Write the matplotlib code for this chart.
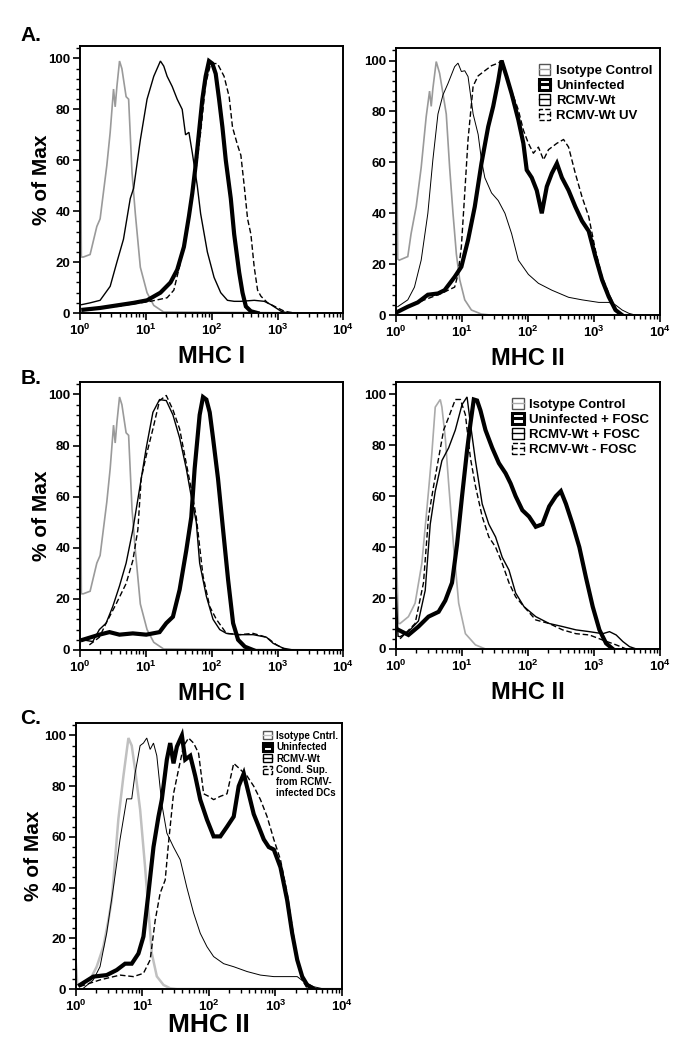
import matplotlib
matplotlib.use("Agg")
import matplotlib.pyplot as plt
import numpy as np
from matplotlib.lines import Line2D
from matplotlib.patches import Patch
from matplotlib.ticker import MultipleLocator, LogLocator, NullFormatter

plt.rcParams.update({
    "font.family": "Liberation Sans",
    "font.weight": "bold",
    "mathtext.fontset": "custom",
    "mathtext.bf": "Liberation Sans:bold",
    "mathtext.rm": "Liberation Sans:bold",
    "axes.linewidth": 1.4,
})

# ---- data: x as log10 of fluorescence, y as % of max ----
# A, MHC I
a1_iso_x = [0, 0.02, 0.05, 0.153, 0.255, 0.305, 0.407, 0.458, 0.509, 0.534, 0.56, 0.60, 0.636, 0.70, 0.738, 0.79, 0.84, 0.916, 1.018, 1.12, 1.27, 4.0]
a1_iso_y = [100, 22, 22, 23, 34, 37, 58, 71, 88, 81, 89, 99, 96, 85, 84, 55, 39, 18, 8, 3, 0.4, 0]
a1_wt_x = [0.025, 0.153, 0.305, 0.458, 0.56, 0.66, 0.763, 0.814, 0.916, 1.018, 1.12, 1.221, 1.272, 1.323, 1.4, 1.476, 1.552, 1.603, 1.654, 1.705, 1.781, 1.832, 1.934, 2.036, 2.137, 2.239, 2.341, 2.443, 2.646, 2.799, 2.9, 3.053, 3.155]
a1_wt_y = [3.3, 4, 5, 10.5, 20, 29, 45, 49, 68, 84, 93, 99, 97, 93, 89, 84, 80, 70, 71, 63, 50, 39, 24, 14, 8, 5, 4.6, 4.6, 5, 4.6, 3.3, 0.7, 0]
a1_un_x = [0.05, 0.305, 0.56, 0.814, 1.018, 1.221, 1.374, 1.476, 1.578, 1.654, 1.705, 1.756, 1.807, 1.858, 1.908, 1.959, 2.01, 2.061, 2.112, 2.163, 2.214, 2.29, 2.341, 2.417, 2.468, 2.519, 2.595, 2.697]
a1_un_y = [1.3, 2, 3, 4, 5, 8, 12, 17, 26, 38, 47, 58, 71, 84, 93, 99, 98, 94, 84, 73, 60, 45, 31, 16, 8, 2.6, 0.7, 0]
a1_uv_x = [0.05, 0.56, 1.069, 1.323, 1.425, 1.527, 1.628, 1.73, 1.832, 1.908, 1.985, 2.087, 2.188, 2.265, 2.316, 2.392, 2.443, 2.494, 2.545, 2.595, 2.646, 2.697, 2.748, 2.85, 3.003, 3.104, 3.257]
a1_uv_y = [1, 2.6, 4.6, 6, 9, 20, 34, 50, 71, 90, 98, 98, 93, 85, 73, 66, 62, 50, 37, 31, 18, 9, 6.6, 4, 2, 0.7, 0]

# A, MHC II
a2_iso_x = [0, 0.025, 0.05, 0.178, 0.228, 0.305, 0.381, 0.457, 0.508, 0.533, 0.558, 0.609, 0.66, 0.711, 0.761, 0.812, 0.863, 0.914, 0.964, 1.041, 1.142, 1.294, 1.447, 4.0]
a2_iso_y = [100, 22, 21.6, 23, 32, 42.6, 58, 78, 88, 82, 89, 99.6, 95, 87, 79, 58, 40, 24, 14, 6, 2, 0.4, 0, 0]
a2_wt_x = [0.025, 0.178, 0.279, 0.381, 0.482, 0.558, 0.635, 0.711, 0.787, 0.888, 0.939, 0.99, 1.041, 1.091, 1.168, 1.244, 1.294, 1.345, 1.447, 1.548, 1.65, 1.751, 1.853, 2.005, 2.157, 2.36, 2.614, 2.817, 3.071, 3.223, 3.325, 3.426, 3.528, 3.629]
a2_wt_y = [3.3, 6, 11, 21.6, 40, 61, 79, 86.5, 91, 97.6, 99, 95.7, 96, 93.7, 79, 71, 61, 54, 48, 45, 40, 32, 21.6, 16, 12.5, 9.8, 7, 6, 5, 5, 4, 2, 0.7, 0]
a2_un_x = [0.025, 0.178, 0.33, 0.482, 0.635, 0.736, 0.888, 0.99, 1.091, 1.193, 1.294, 1.396, 1.472, 1.548, 1.599, 1.675, 1.751, 1.853, 1.929, 1.98, 2.056, 2.132, 2.208, 2.284, 2.36, 2.437, 2.513, 2.614, 2.716, 2.817, 2.919, 3.02, 3.122, 3.223, 3.325, 3.426]
a2_un_y = [1.3, 3.3, 5, 8, 8.5, 9.8, 15, 19, 29.5, 42.6, 59.6, 74, 82, 92, 100, 93.7, 87, 76.7, 67.5, 57, 54, 49, 40, 50.5, 55.7, 59.6, 54, 49, 42.6, 37, 33, 23, 13.8, 7.2, 2, 0]
a2_uv_x = [0.025, 0.431, 0.685, 0.888, 0.939, 0.99, 1.041, 1.091, 1.168, 1.244, 1.345, 1.447, 1.548, 1.599, 1.675, 1.751, 1.853, 1.929, 2.005, 2.081, 2.157, 2.234, 2.31, 2.437, 2.538, 2.614, 2.716, 2.817, 2.919, 3.02, 3.122, 3.223, 3.325, 3.426]
a2_uv_y = [1.3, 6, 8.5, 11, 16, 27, 48, 69, 90, 94, 96, 98, 99, 100, 94, 88, 80.6, 72.7, 67.5, 63.6, 66, 61, 65, 67.5, 69, 66, 55.7, 46.5, 38.7, 25.6, 15, 8.5, 2.6, 0]

# B, MHC I (same isotype control as A)
b1_iso_x = a1_iso_x
b1_iso_y = a1_iso_y
b1_wt_x = [0.041, 0.193, 0.294, 0.396, 0.497, 0.599, 0.7, 0.802, 0.904, 1.005, 1.107, 1.208, 1.31, 1.411, 1.513, 1.614, 1.69, 1.766, 1.817, 1.919, 2.02, 2.122, 2.223, 2.426, 2.629, 2.832, 2.934, 3.086, 3.239]
b1_wt_y = [4, 3.3, 8, 10.5, 17, 25, 34, 47, 63, 79, 93, 98, 97.6, 92, 83, 71, 60, 50, 34, 21, 12, 8, 6.5, 6, 6, 5, 2.6, 0.7, 0]
b1_minus_x = [0.142, 0.294, 0.396, 0.548, 0.7, 0.802, 0.878, 0.929, 1.005, 1.107, 1.208, 1.31, 1.411, 1.513, 1.614, 1.69, 1.766, 1.868, 1.97, 2.071, 2.223, 2.426, 2.629, 2.832, 2.985, 3.137]
b1_minus_y = [2, 5, 10.5, 18, 26, 35, 47, 67, 76, 86.5, 97.6, 99.6, 94, 86.5, 73, 63, 52, 29, 17, 12, 6.5, 6, 6.5, 5, 2, 0]
b1_un_x = [0.041, 0.294, 0.447, 0.599, 0.802, 1.005, 1.208, 1.31, 1.411, 1.513, 1.614, 1.69, 1.741, 1.817, 1.868, 1.919, 1.97, 2.02, 2.096, 2.173, 2.249, 2.325, 2.401, 2.503, 2.629]
b1_un_y = [4, 6, 7, 6, 6.5, 6, 7, 10.5, 13, 23.6, 39, 52, 71, 92, 99, 98, 93, 83, 67, 47, 27.5, 10.5, 4, 1.3, 0]

# B, MHC II
b2_iso_x = [0, 0.036, 0.061, 0.188, 0.289, 0.391, 0.492, 0.543, 0.594, 0.67, 0.695, 0.746, 0.797, 0.873, 0.949, 1.051, 1.203, 1.355, 4.0]
b2_iso_y = [43, 10, 10, 12.7, 18, 33.6, 62, 77, 95, 98, 95, 83, 65, 40, 18, 6, 1.6, 0, 0]
b2_wt_x = [0, 0.03, 0.061, 0.188, 0.34, 0.442, 0.518, 0.594, 0.695, 0.797, 0.898, 1.0, 1.076, 1.127, 1.203, 1.305, 1.406, 1.508, 1.609, 1.711, 1.812, 1.939, 2.117, 2.32, 2.523, 2.726, 2.929, 3.132, 3.234, 3.335, 3.437, 3.538, 3.64]
b2_wt_y = [25, 5, 4.8, 6.8, 11, 23, 49, 62, 74, 79, 86, 96, 99, 88.5, 74, 57, 49, 44, 36, 31, 22, 16.6, 12.7, 10, 8.8, 7.5, 6.8, 6, 6.8, 5.5, 2.9, 0.9, 0]
b2_minus_x = [0.061, 0.289, 0.416, 0.492, 0.569, 0.645, 0.721, 0.797, 0.898, 0.975, 1.051, 1.127, 1.203, 1.305, 1.406, 1.508, 1.609, 1.711, 1.812, 1.939, 2.117, 2.32, 2.523, 2.726, 2.929, 3.132, 3.335, 3.487]
b2_minus_y = [4, 10, 26, 52, 64, 75, 86, 91, 98, 98, 92, 75, 64, 52, 44, 40, 33.6, 26, 20.5, 16.6, 11.4, 10, 7.5, 6, 5.5, 3.5, 1.6, 0]
b2_un_x = [0.036, 0.188, 0.34, 0.492, 0.645, 0.746, 0.848, 0.924, 1.0, 1.076, 1.127, 1.178, 1.228, 1.279, 1.355, 1.457, 1.558, 1.66, 1.736, 1.812, 1.914, 2.015, 2.117, 2.218, 2.32, 2.421, 2.497, 2.574, 2.675, 2.777, 2.878, 2.98, 3.081, 3.183, 3.284]
b2_un_y = [7.5, 5.5, 8.8, 12.7, 14.6, 19, 26, 41, 60, 78, 88.5, 98, 97.6, 93.7, 86, 79, 73, 69, 65, 60, 54.5, 52, 48, 49, 56, 60, 62, 57, 49, 40, 28, 16.6, 7.5, 2.2, 0]

# C, MHC II
c_iso_x = [0, 0.02, 0.06, 0.211, 0.312, 0.412, 0.487, 0.538, 0.588, 0.638, 0.714, 0.789, 0.839, 0.889, 0.965, 1.04, 1.09, 1.141, 1.216, 1.317, 1.417, 1.518, 4.0]
c_iso_y = [10, 2, 1.6, 3.6, 8.8, 16.7, 27, 35, 51, 67, 84, 99, 96, 86.6, 70.8, 48, 31, 14, 5, 1.6, 0.3, 0, 0]
c_wt_x = [0.111, 0.261, 0.362, 0.462, 0.563, 0.663, 0.764, 0.839, 0.889, 0.965, 1.015, 1.065, 1.116, 1.166, 1.216, 1.291, 1.367, 1.467, 1.568, 1.668, 1.769, 1.869, 1.97, 2.07, 2.221, 2.372, 2.573, 2.774, 2.975, 3.176, 3.327, 3.427, 3.578, 3.729]
c_wt_y = [0.3, 3.6, 8.8, 22, 40, 59, 75, 75, 85, 96, 97, 99, 94.5, 97, 92, 73, 61.5, 56, 51, 40, 30, 22, 16.7, 12.8, 10, 8.8, 6.9, 5.5, 4.9, 4.9, 4.9, 2.9, 0.9, 0]
c_sup_x = [0.06, 0.362, 0.663, 0.864, 1.015, 1.116, 1.191, 1.266, 1.342, 1.392, 1.467, 1.543, 1.618, 1.693, 1.769, 1.844, 1.92, 1.995, 2.07, 2.171, 2.271, 2.372, 2.472, 2.573, 2.673, 2.774, 2.874, 2.975, 3.075, 3.176, 3.251, 3.327, 3.402, 3.477]
c_sup_y = [1, 3.6, 5.5, 4.9, 6.2, 11.5, 27, 37.8, 43, 57.6, 77, 86.6, 95.8, 99, 97, 93, 77, 76, 74.7, 76, 77, 89, 86.6, 84, 80, 74.7, 68, 59, 51, 37.8, 24.6, 11.5, 3.6, 0.3]
c_un_x = [0.06, 0.261, 0.462, 0.613, 0.739, 0.839, 0.94, 1.015, 1.09, 1.166, 1.241, 1.291, 1.367, 1.417, 1.467, 1.518, 1.593, 1.643, 1.719, 1.794, 1.869, 1.97, 2.07, 2.171, 2.271, 2.372, 2.447, 2.523, 2.598, 2.673, 2.749, 2.824, 2.899, 2.975, 3.075, 3.176, 3.251, 3.327, 3.402, 3.477, 3.578]
c_un_y = [1.6, 4.9, 5.5, 7.5, 10, 10, 14, 20.7, 37.8, 56, 68, 74.7, 90.5, 97, 89, 95.6, 100, 90.5, 92, 84, 74.7, 66.8, 60.2, 60.2, 64, 68, 80, 85, 77, 69, 64, 59, 56, 55, 48, 35, 22, 11.5, 4.9, 1.6, 0]

legend_a = ["Isotype Control", "Uninfected", "RCMV-Wt", "RCMV-Wt UV"]
legend_b = ["Isotype Control", "Uninfected + FOSC", "RCMV-Wt + FOSC", "RCMV-Wt - FOSC"]
legend_c = ["Isotype Cntrl.", "Uninfected", "RCMV-Wt", "Cond. Sup.", "from RCMV-", "infected DCs"]

GRAY = "#9a9a9a"
THIN = dict(color="black", lw=1.0)
THICK = dict(color="black", lw=3.0)
DASH = dict(color="black", lw=1.0, ls=(0, (4, 2)))


def histo(ax, x, y, **kw):
    ax.plot(10 ** np.asarray(x), y, solid_joinstyle="miter", **kw)


def style(ax, xlabel, xlsize=17, ticksize=9.5, ylab_x=None, xpad=5):
    ax.set_xscale("log")
    ax.set_xlim(1, 1e4)
    ax.set_ylim(0, 105)
    ax.set_xticks([1, 10, 100, 1000, 10000])
    ax.set_xticklabels([r"$\mathbf{10^{%d}}$" % i for i in range(5)])
    ax.xaxis.set_minor_locator(LogLocator(base=10, subs=np.arange(2, 10)))
    ax.xaxis.set_minor_formatter(NullFormatter())
    ax.set_yticks([0, 20, 40, 60, 80, 100])
    ax.yaxis.set_minor_locator(MultipleLocator(4))
    ax.tick_params(which="major", length=5, width=1.2, labelsize=ticksize, pad=2)
    ax.tick_params(which="minor", length=3, width=1.0)
    for lab in ax.get_yticklabels():
        lab.set_fontweight("bold")
    ax.set_xlabel(xlabel, fontsize=xlsize, fontweight="bold", labelpad=xpad)
    if ylab_x is not None:
        ax.set_ylabel("% of Max", fontsize=15, fontweight="bold")
        ax.yaxis.set_label_coords(ylab_x, 0.5)


def legend(ax, labels, iso_color, fs, loc_xy):
    handles = [
        (Patch(fc="white", ec="#555555", lw=1.0), Line2D([], [], color=iso_color, lw=1.0)),
        (Patch(fc="white", ec="black", lw=2.2), Line2D([], [], color="black", lw=2.2)),
        (Patch(fc="white", ec="black", lw=1.0), Line2D([], [], color="black", lw=1.0)),
        (Patch(fc="white", ec="black", lw=1.0, ls="--"), Line2D([], [], color="black", lw=1.0, ls="--")),
    ]
    # extra text lines of a wrapped label get an empty swatch
    for _ in labels[4:]:
        handles.append(Patch(fc="none", ec="none"))
    ax.legend(handles, labels, loc="upper left", bbox_to_anchor=loc_xy, frameon=False,
              handlelength=0.9, handleheight=0.9, handletextpad=0.4,
              labelspacing=0.15, borderaxespad=0, prop={"weight": "bold", "size": fs})


fig = plt.figure(figsize=(6.84, 10.4), dpi=100)

# A left
ax = fig.add_axes([0.117, 0.699, 0.385, 0.257])
histo(ax, a1_iso_x, a1_iso_y, color=GRAY, lw=1.2)
histo(ax, a1_uv_x, a1_uv_y, **DASH)
histo(ax, a1_wt_x, a1_wt_y, **THIN)
histo(ax, a1_un_x, a1_un_y, **THICK)
style(ax, "MHC I", ylab_x=-0.11)

# A right
ax = fig.add_axes([0.579, 0.697, 0.386, 0.257])
histo(ax, a2_iso_x, a2_iso_y, color=GRAY, lw=1.2)
histo(ax, a2_uv_x, a2_uv_y, **DASH)
histo(ax, a2_wt_x, a2_wt_y, color="black", lw=0.7)
histo(ax, a2_un_x, a2_un_y, **THICK)
style(ax, "MHC II")
legend(ax, legend_a, GRAY, 9.5, (0.52, 0.96))

# B left
ax = fig.add_axes([0.117, 0.375, 0.385, 0.258])
histo(ax, b1_iso_x, b1_iso_y, color=GRAY, lw=1.2)
histo(ax, b1_minus_x, b1_minus_y, **DASH)
histo(ax, b1_wt_x, b1_wt_y, **THIN)
histo(ax, b1_un_x, b1_un_y, **THICK)
style(ax, "MHC I", ylab_x=-0.11)

# B right
ax = fig.add_axes([0.579, 0.376, 0.386, 0.257])
histo(ax, b2_iso_x, b2_iso_y, color="#aaaaaa", lw=1.2)
histo(ax, b2_minus_x, b2_minus_y, **DASH)
histo(ax, b2_wt_x, b2_wt_y, **THIN)
histo(ax, b2_un_x, b2_un_y, **THICK)
style(ax, "MHC II")
legend(ax, legend_b, "#aaaaaa", 9.5, (0.42, 0.96))

# C
ax = fig.add_axes([0.111, 0.049, 0.389, 0.256])
histo(ax, c_iso_x, c_iso_y, color="#c0c0c0", lw=1.8)
histo(ax, c_sup_x, c_sup_y, **DASH)
histo(ax, c_wt_x, c_wt_y, color="black", lw=0.7)
histo(ax, c_un_x, c_un_y, **THICK)
style(ax, "MHC II", xlsize=19, ylab_x=-0.124, xpad=-1)
legend(ax, legend_c, "#c0c0c0", 7, (0.69, 0.985))

for lab, y in [("A.", 0.966), ("B.", 0.636), ("C.", 0.309)]:
    fig.text(0.03, y, lab, fontsize=15, fontweight="bold", va="center", ha="left")

fig.savefig("out.png", dpi=100)
